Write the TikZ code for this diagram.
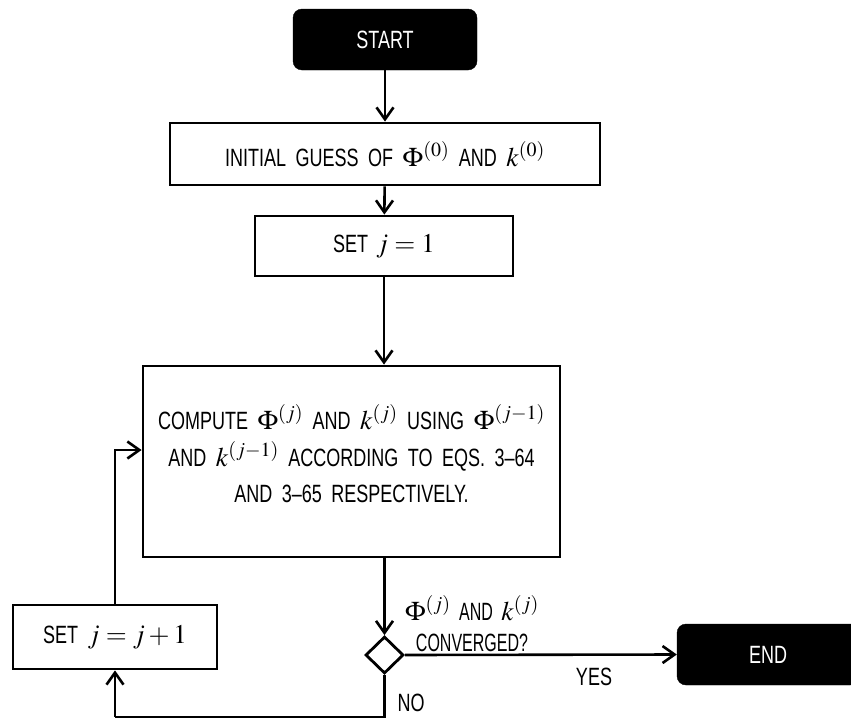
\documentclass[tikz,border=0pt]{standalone}
\usepackage{mathptmx}
\usepackage{fontspec}
\setmainfont[FakeStretch=0.72,WordSpace=1.9]{Liberation Sans}
\newfontfamily\narrowfont[FakeStretch=0.64,WordSpace=1.9]{Liberation Sans}
\newcommand{\mth}[1]{{\fontsize{27}{36}\selectfont$#1$}}
\usetikzlibrary{arrows.meta,shapes.geometric}
\tikzset{
  base/.style={font=\fontsize{25}{36.5}\selectfont, inner sep=0pt, align=center},
  term/.style={base, fill=black, text=white, rounded corners=9pt, draw=black},
  boxnode/.style={base, draw=black, line width=2.8pt},
  dia/.style={draw=black, line width=2.8pt, diamond, inner sep=0pt, minimum width=38pt, minimum height=37pt},
  lbl/.style={base},
  arr/.style={line width=2.6pt, -{Straight Barb[length=12pt,width=17pt,line width=2.6pt]}},
  ln/.style={line width=2.6pt}
}
\begin{document}
\begin{tikzpicture}[x=1pt,y=-1pt]
\useasboundingbox (0,0) rectangle (851,720);
\node[term, minimum width=184pt, minimum height=61pt] (start) at (385,39.5) {START};
\node[boxnode, minimum width=430pt, minimum height=62pt] (init) at (385,154) {INITIAL GUESS OF \mth{\Phi^{(0)}} AND \mth{k^{(0)}}};
\node[boxnode, minimum width=258pt, minimum height=60pt] (set1) at (384,246) {SET\hspace{8pt}\mth{j=1}};
\node[boxnode, minimum width=417pt, minimum height=191pt] (comp) at (351.5,461.5) {};
\node[base] (comptext) at (351.5,454) {COMPUTE \mth{\Phi^{(j)}} AND \mth{k^{(j)}} USING \mth{\Phi^{(j-1)}}\\AND \mth{k^{(j-1)}} ACCORDING TO EQS. 3--64\\AND 3--65 RESPECTIVELY.};
\node[dia] (dec) at (384.5,655) {};
\node[boxnode, minimum width=204pt, minimum height=64pt] (inc) at (115,637) {SET \mth{j=j+1}};
\node[term, minimum width=182pt, minimum height=61pt] (end) at (768,654.5) {END};
\node[lbl, font=\fontsize{25}{31}\selectfont\narrowfont] (cond) at (472,624) {\mth{\Phi^{(j)}} AND \mth{k^{(j)}}\\CONVERGED?};
\node[lbl] (yes) at (594,677) {YES};
\node[lbl] (no) at (411,703) {NO};
\coordinate (c1) at (115,717);
\coordinate (c2) at (115,450);
\draw[arr] (start) -- (init);
\draw[arr] (init) -- (set1);
\draw[arr] (set1.south) -- (set1.south |- comp.north);
\draw[arr] (dec.north |- comp.south) -- (dec.north);
\draw[arr] (dec.east) -- (end.west);
\draw[ln] (dec.south) |- (c1);
\draw[arr] (c1) -- (inc.south);
\draw[arr] (inc.north) -- (c2) -- (c2 -| comp.west);
\end{tikzpicture}
\end{document}
